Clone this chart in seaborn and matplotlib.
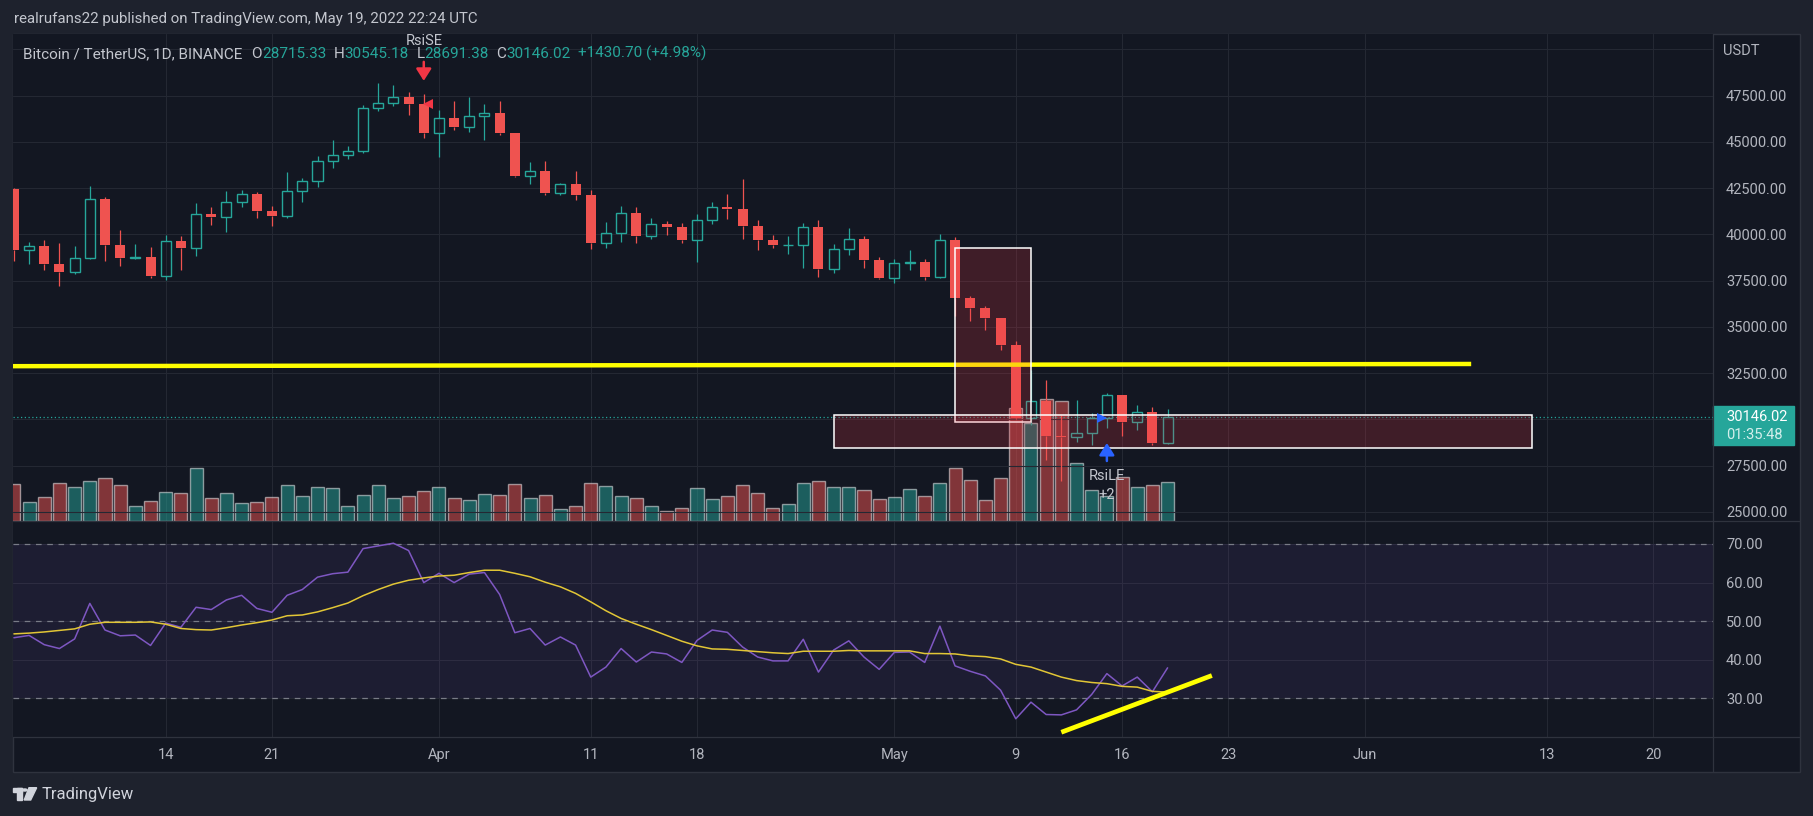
import numpy as np
import pandas as pd
import seaborn as sns
import matplotlib
matplotlib.use("Agg")
import matplotlib.pyplot as plt
import matplotlib.dates as mdates
from matplotlib.patches import Rectangle, Polygon, Circle
from matplotlib.lines import Line2D
from matplotlib.transforms import blended_transform_factory, offset_copy

# BTC/USDT daily candles (Binance), 2022-03-04 .. 2022-05-19
first_day = "2022-03-04"
opens = [42455, 39148, 39398, 38420, 37988, 38730, 41941, 39422, 38729, 38807,
         37777, 39671, 39280, 41114, 40917, 41757, 42201, 41262, 41002, 42364,
         42882, 43991, 44313, 44511, 46827, 47122, 47434, 47067, 45510, 46283,
         45811, 46407, 46580, 45497, 43170, 43444, 42252, 42753, 42158, 39530,
         40074, 41147, 39942, 40551, 40378, 39678, 40801, 41493, 41358, 40480,
         39709, 39441, 39450, 40426, 38112, 39235, 39742, 38596, 37630, 38468,
         38525, 37728, 39690, 36552, 36013, 35472, 34038, 30076, 31017, 29103,
         29029, 29287, 30086, 31328, 29875, 30424, 28715.33]
highs = [42500, 39600, 39710, 39550, 39385, 42625, 42030, 40250, 39490, 39330,
         39960, 39910, 41710, 41490, 42350, 42400, 42280, 41545, 43380, 43060,
         44240, 45094, 44790, 46999, 48189, 48096, 47700, 47600, 46720, 47213,
         47444, 47030, 47200, 45507, 43900, 43970, 42800, 43410, 42414, 40699,
         41561, 41500, 40900, 40747, 40640, 41110, 41760, 42190, 42976, 40785,
         39980, 39925, 40640, 40797, 39490, 40360, 39920, 38795, 38680, 39170,
         38680, 40023, 39845, 36650, 36130, 35502, 34243, 32690, 32150, 30250,
         31070, 30350, 31430, 31334, 30800, 30675, 30545.18]
lows = [38590, 38430, 38105, 37190, 37890, 38656, 38590, 38270, 38680, 37620,
        37560, 38090, 38860, 40520, 40150, 41510, 40910, 40480, 40910, 41780,
        42590, 43610, 44100, 44421, 46663, 46950, 46445, 45200, 44200, 45620,
        45530, 45118, 45353, 43121, 42727, 42107, 42125, 41868, 39222, 39254,
        39588, 39551, 39760, 39990, 39547, 38536, 40590, 40840, 39751, 39140,
        39290, 38970, 38210, 37702, 37900, 38915, 38210, 37578, 37386, 38100,
        37550, 37670, 35604, 35300, 34810, 33730, 30033, 29718, 27800, 26700,
        28762, 28640, 29540, 29086, 29450, 28640, 28691.38]
closes = [39148, 39398, 38420, 37988, 38730, 41941, 39422, 38729, 38807, 37777,
          39671, 39280, 41114, 40917, 41757, 42201, 41262, 41002, 42364, 42882,
          43991, 44313, 44511, 46827, 47122, 47434, 47067, 45510, 46283, 45811,
          46407, 46580, 45497, 43170, 43444, 42252, 42753, 42158, 39530, 40074,
          41147, 39942, 40551, 40378, 39678, 40801, 41493, 41358, 40480, 39709,
          39441, 39450, 40426, 38112, 39235, 39742, 38596, 37630, 38468, 38525,
          37728, 39690, 36552, 36013, 35472, 34038, 30076, 31017, 29103, 29029,
          29287, 30086, 31328, 29875, 30424, 28715.32, 30146.02]
# volume, thousand BTC
volume_k = [50, 26, 32, 51, 46, 54, 58, 49, 20, 27, 39, 38, 72, 31, 38,
            24, 26, 32, 49, 34, 46, 45, 20, 35, 49, 31, 34, 41, 46, 31,
            28, 36, 35, 50, 31, 35, 16, 20, 51, 47, 34, 31, 20, 14, 18,
            45,
            30, 34, 49, 38, 18, 23, 51, 54, 46, 46, 42, 30, 32, 43, 34,
            51, 72, 55, 28, 58, 153, 132, 165, 162, 78, 42, 34, 59, 46, 49, 53]
# RSI(14) and its moving average
rsi_values = [45.7, 46.3, 43.9, 42.9, 45.4, 54.6, 47.7, 46.2, 46.4, 43.7,
              49.5, 48.4, 53.6, 53.0, 55.5, 56.7, 53.3, 52.3, 56.7, 58.2,
              61.4, 62.3, 62.7, 68.8, 69.5, 70.2, 68.3, 60.0, 62.4, 60.0,
              62.2, 62.6, 56.9, 47.0, 48.1, 43.8, 45.9, 43.8, 35.5, 38.1,
              42.9, 39.4, 42.0, 41.5, 39.3, 45.0, 47.7, 47.1, 43.3, 40.7,
              39.7, 39.7, 45.3, 36.8, 42.5, 44.9, 40.7, 37.5, 41.9, 42.0,
              39.3, 48.7, 38.4, 37.0, 35.8, 32.1, 24.7, 29.0, 25.8, 25.7,
              27.0, 31.0, 36.4, 33.2, 35.5, 31.7, 37.9]
rsi_ma = [46.7, 46.9, 47.2, 47.6, 48.0, 49.2, 49.7, 49.7, 49.7, 49.8,
          49.2, 48.1, 47.8, 47.7, 48.3, 49.0, 49.6, 50.3, 51.4, 51.6,
          52.4, 53.5, 54.7, 56.6, 58.2, 59.6, 60.6, 61.2, 61.7, 61.9,
          62.6, 63.2, 63.2, 62.4, 61.5, 60.1, 58.9, 57.2, 55.0, 52.7,
          50.7, 49.2, 47.8, 46.3, 44.8, 43.6, 42.8, 42.7, 42.4, 42.1,
          41.8, 41.6, 42.2, 42.2, 42.2, 42.4, 42.3, 42.3, 42.3, 42.3,
          41.6, 41.6, 41.5, 41.0, 40.8, 40.2, 38.8, 38.1, 36.8, 35.5,
          34.6, 34.1, 33.8, 33.1, 32.9, 31.8, 31.6]

date_ticks = ["2022-03-14", "2022-03-21", "2022-04-01", "2022-04-11", "2022-04-18",
              "2022-05-01", "2022-05-09", "2022-05-16", "2022-05-23", "2022-06-01",
              "2022-06-13", "2022-06-20"]
date_labels = ["14", "21", "Apr", "11", "18", "May", "9", "16", "23", "Jun", "13", "20"]
price_ticks = [25000, 27500, 30000, 32500, 35000, 37500, 40000, 42500, 45000, 47500, 50000]
hidden_price_labels = [30000, 50000]   # covered by the last-price tag / the unit label
rsi_ticks = [30, 40, 50, 60, 70]

# user drawings
level_dates, level_prices = ["2022-03-03 00:00", "2022-06-08 00:00"], [32880, 33000]
trend_dates, trend_rsi = ["2022-05-12 00:00", "2022-05-21 22:00"], [21.2, 35.9]
zones = [("2022-05-05", "2022-05-10", 29865, 39260),
         ("2022-04-27", "2022-06-12", 28477, 30243)]
short_signal_day, long_signal_day = "2022-03-31", "2022-05-15"

# colours
BG, OUTER, GRID, FRAME = "#131722", "#1e222d", "#242833", "#2f333e"
TEXT, LABEL = "#b2b5be", "#c3c6ce"
UP, DOWN = "#26a69a", "#ef5350"
W, H = 1813, 816

sns.set_theme(style="dark", rc={
    "axes.facecolor": BG, "figure.facecolor": OUTER, "axes.grid": False,
    "text.color": LABEL, "xtick.color": TEXT, "ytick.color": TEXT,
    "axes.edgecolor": FRAME,
})
plt.rcParams["font.family"] = ["Roboto", "DejaVu Sans"]


def to_num(strings):
    return mdates.date2num(pd.to_datetime(strings, format="mixed"))


dates = pd.date_range(first_day, periods=len(closes), freq="D")
xd = mdates.date2num(dates)
o, h, l, c = (np.array(a, dtype=float) for a in (opens, highs, lows, closes))
up = c >= o
ref = mdates.date2num(pd.Timestamp("2022-03-14"))
xlim = (ref - 10.06, ref + 101.93)
tick_x = to_num(date_ticks)
plim = (24513, 50835)
rlim = (19.97, 75.96)

fig = plt.figure(figsize=(W / 100, H / 100), dpi=100)


def px_axes(x0, y0, x1, y1, **kw):
    return fig.add_axes([x0 / W, 1 - y1 / H, (x1 - x0) / W, (y1 - y0) / H], **kw)


def fig_line(x0, y0, x1, y1):
    fig.add_artist(Line2D([x0 / W, x1 / W], [1 - y0 / H, 1 - y1 / H], color=FRAME,
                          lw=0.9, transform=fig.transFigure))


fig.add_artist(Rectangle((13 / W, 1 - 772 / H), 1787 / W, 738 / H, facecolor=BG,
                         edgecolor=FRAME, lw=1, transform=fig.transFigure, zorder=-10))

vol_ax = px_axes(13, 34, 1713, 521)
price_ax = px_axes(13, 34, 1713, 521)
price_ax.set_facecolor("none")
rsi_ax = px_axes(13, 521, 1713, 737)

# volume
vol_df = pd.DataFrame({"x": xd, "vol": volume_k, "dir": np.where(up, "up", "down")})
sns.barplot(data=vol_df, x="x", y="vol", hue="dir", palette={"up": UP, "down": DOWN},
            native_scale=True, width=0.86, dodge=False, saturation=1, alpha=0.5,
            errorbar=None, legend=False, ax=vol_ax)
vol_ax.set_ylim(0, 657)
vol_ax.set_yticks([])

# candles
col = np.where(up, UP, DOWN)
top, bot = np.maximum(o, c), np.minimum(o, c)
price_ax.vlines(xd, top, h, colors=col, lw=0.9, zorder=4)
price_ax.vlines(xd, l, bot, colors=col, lw=0.9, zorder=4)
price_ax.bar(xd[up], (c - o)[up], bottom=o[up], width=0.66, facecolor="none",
             edgecolor=UP, lw=1.0, zorder=4)
price_ax.bar(xd[~up], (o - c)[~up], bottom=c[~up], width=0.66, color=DOWN, lw=0, zorder=4)

# drawings
price_ax.plot(to_num(level_dates), level_prices,
              color="#ffff00", lw=3.2, solid_capstyle="butt", zorder=5)
for d0, d1, p0, p1 in zones:
    x0, x1 = to_num([d0, d1])
    price_ax.add_patch(Rectangle((x0, p0), x1 - x0, p1 - p0, facecolor=(0.949, 0.212, 0.271, 0.2),
                                 edgecolor="white", lw=1.1, zorder=6))
price_ax.axhline(c[-1], color=UP, ls=(0, (1, 2)), lw=0.9, zorder=3)


def px_off(dx=0, dy=0):
    return offset_copy(price_ax.transData, fig=fig, x=dx, y=dy, units="dots")


arrow_style = dict(arrowstyle="-|>,head_length=0.6,head_width=0.38", lw=1.8,
                   shrinkA=0, shrinkB=0, mutation_scale=12)

# strategy signals
i_se = dates.get_loc(pd.Timestamp(short_signal_day))
sx = xd[i_se]
price_ax.annotate("", xy=(sx, h[i_se]), xycoords=px_off(0, 13), xytext=(sx, h[i_se]),
                  textcoords=px_off(0, 32), arrowprops=dict(color="#f23645", **arrow_style),
                  zorder=7)
price_ax.text(sx, h[i_se], "RsiSE", transform=px_off(0, 53), ha="center", va="center",
              fontsize=10.5, color=LABEL, zorder=7)
price_ax.plot([sx], [o[i_se]], marker="<", ms=7, color="#f23645", mew=0,
              transform=px_off(4, 0), zorder=7)

i_le = dates.get_loc(pd.Timestamp(long_signal_day))
lx = xd[i_le]
price_ax.annotate("", xy=(lx, l[i_le]), xycoords=px_off(0, -15), xytext=(lx, l[i_le]),
                  textcoords=px_off(0, -33), arrowprops=dict(color="#2962ff", **arrow_style),
                  zorder=7)
price_ax.text(lx, l[i_le], "RsiLE", transform=px_off(0, -48), ha="center", va="center",
              fontsize=10.5, color=LABEL, zorder=7)
price_ax.text(lx, l[i_le], "+2", transform=px_off(0, -67), ha="center", va="center",
              fontsize=10.5, color=LABEL, zorder=7)
price_ax.plot([lx], [o[i_le]], marker=">", ms=7, color="#2962ff", mew=0,
              transform=px_off(-4.5, 0), zorder=7)

# price pane axes
price_ax.set_ylim(*plim)
price_ax.yaxis.tick_right()
price_ax.set_yticks(price_ticks)
price_ax.set_yticklabels(["" if p in hidden_price_labels else f"{p:.2f}" for p in price_ticks])
price_ax.tick_params(axis="y", length=0, pad=9.4, labelsize=10.5, labelcolor=TEXT)
price_ax.grid(axis="y", color=GRID, lw=0.8)

# last price tag
ppu = 487 / (plim[1] - plim[0])
btr = blended_transform_factory(price_ax.transAxes, price_ax.transData)
price_ax.add_patch(Rectangle((1.0, c[-1] - 28 / ppu), 81 / 1700, 38.7 / ppu, transform=btr,
                             color=UP, clip_on=False, zorder=10))
price_ax.text(1 + 13 / 1700, c[-1], f"{c[-1]:.2f}", transform=btr, va="center", ha="left",
              color="white", fontsize=10.5, clip_on=False, zorder=11)
price_ax.text(1 + 13 / 1700, c[-1] - 18.3 / ppu, "01:35:48", transform=btr, va="center",
              ha="left", color="#d4efec", fontsize=10.5, clip_on=False, zorder=11)

# legend line
t = price_ax.text(10 / 1700, (521 - 54) / 487, "Bitcoin / TetherUS, 1D, BINANCE",
                  transform=price_ax.transAxes, color=LABEL, fontsize=11, va="center")
chg = c[-1] - c[-2]
pieces = [("O", LABEL, 6.5), (f"{o[-1]:.2f}", UP, 0), ("H", LABEL, 5.5), (f"{h[-1]:.2f}", UP, 0),
          ("L", LABEL, 5.5), (f"{l[-1]:.2f}", UP, 0), ("C", LABEL, 5.5), (f"{c[-1]:.2f}", UP, 0),
          (f"{chg:+.2f} ({chg / c[-2] * 100:+.2f}%)", UP, 5.5)]
for s, colr, gap in pieces:
    t = price_ax.annotate(s, xy=(1, 0), xycoords=t, xytext=(gap, 0), textcoords="offset points",
                          color=colr, fontsize=11, va="bottom", ha="left")

# RSI pane
rsi_ax.axhspan(30, 70, color="#7e57c2", alpha=0.1, lw=0)
for lvl in (70, 50, 30):
    rsi_ax.axhline(lvl, color="#787b86", ls=(0, (4.5, 4.5)), lw=0.9)
sns.lineplot(x=xd, y=rsi_values, ax=rsi_ax, color="#7e57c2", lw=1.1, legend=False)
sns.lineplot(x=xd, y=rsi_ma, ax=rsi_ax, color="#e2c636", lw=1.1, legend=False)
rsi_ax.plot(to_num(trend_dates), trend_rsi, color="#ffff00",
            lw=3.4, solid_capstyle="butt")
rsi_ax.set_ylim(*rlim)
rsi_ax.yaxis.tick_right()
rsi_ax.set_yticks(rsi_ticks)
rsi_ax.set_yticklabels([f"{v:.2f}" for v in rsi_ticks])
rsi_ax.tick_params(axis="y", length=0, pad=9.4, labelsize=10.5, labelcolor=TEXT)
rsi_ax.grid(True, color=GRID, lw=0.8)

for ax in (vol_ax, price_ax, rsi_ax):
    ax.set_xlim(*xlim)
    ax.set_xticks(tick_x)
    ax.set_xlabel("")
    ax.set_ylabel("")
    for sp in ax.spines.values():
        sp.set_visible(False)
vol_ax.grid(axis="x", color=GRID, lw=0.8)
vol_ax.tick_params(axis="x", labelbottom=False, length=0)
price_ax.tick_params(axis="x", labelbottom=False, length=0)
rsi_ax.set_xticklabels(date_labels)
rsi_ax.tick_params(axis="x", length=0, pad=8, labelsize=10.5, labelcolor=TEXT)

# frame separators
fig_line(13, 521, 1800, 521)
fig_line(13, 737, 1800, 737)
fig_line(1713, 34, 1713, 772)

# header, axis unit and footer
fig.text(14 / W, 1 - 19 / H, "realrufans22 published on TradingView.com, May 19, 2022 22:24 UTC",
         color=LABEL, fontsize=10.8, va="center", ha="left")
fig.text(1723 / W, 1 - 51 / H, "USDT", color=TEXT, fontsize=10.5, va="center", ha="left")
LOGO = "#d1d4dc"
fig.add_artist(Rectangle((12.7 / W, 1 - 792.2 / H), 9.3 / W, 4.5 / H, color=LOGO,
                         transform=fig.transFigure))
fig.add_artist(Rectangle((17.3 / W, 1 - 800 / H), 4.7 / W, 12.3 / H, color=LOGO,
                         transform=fig.transFigure))
fig.add_artist(Circle((24.8 / W, 1 - 790 / H), 2.3 / W, color=LOGO, transform=fig.transFigure))
fig.add_artist(Polygon([(29.0 / W, 1 - 787.7 / H), (36.7 / W, 1 - 787.7 / H),
                        (30.7 / W, 1 - 800 / H), (24.2 / W, 1 - 800 / H)], color=LOGO,
                       transform=fig.transFigure))
fig.text(42 / W, 1 - 794 / H, "TradingView", color=LOGO, fontsize=12, va="center", ha="left")

fig.savefig("out.png", dpi=100, facecolor=OUTER)
